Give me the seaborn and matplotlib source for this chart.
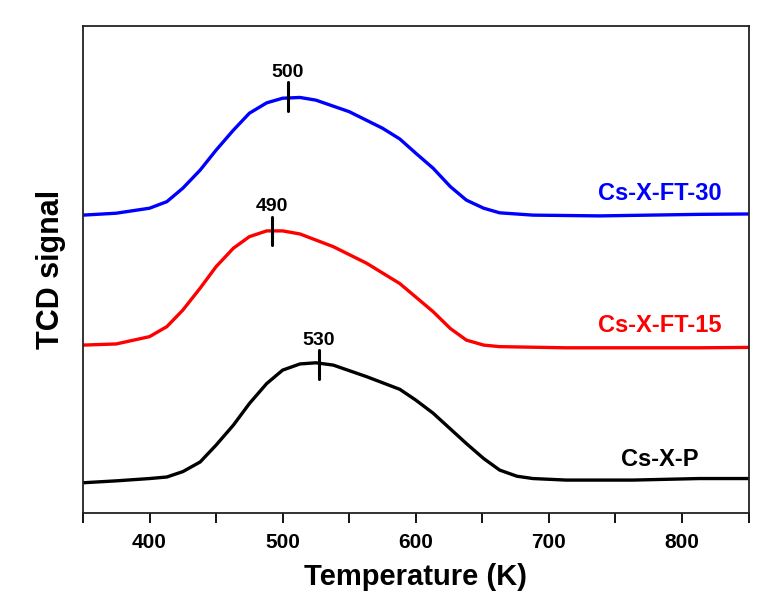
import numpy as np
import pandas as pd
import matplotlib.pyplot as plt
import seaborn as sns

# temperature (K) / TCD signal (a.u.)
temp_p = [350, 375, 400, 413, 425, 438, 450, 463, 475, 488, 500, 513, 525, 538, 563, 588, 600,
	613, 638, 651, 663, 676, 688, 713, 763, 813, 850]
sig_p = [0.79, 0.84, 0.90, 0.94, 1.08, 1.33, 1.77, 2.29, 2.85, 3.37, 3.72, 3.88, 3.91, 3.85, 3.55, 3.22, 2.94,
	2.60, 1.81, 1.42, 1.12, 0.96, 0.90, 0.86, 0.86, 0.90, 0.90]

temp_15 = [350, 375, 400, 413, 425, 438, 450, 463, 475, 488, 500, 513, 538, 563, 588, 600,
	613, 626, 638, 651, 663, 713, 813, 850]
sig_15 = [4.37, 4.40, 4.59, 4.85, 5.28, 5.85, 6.41, 6.89, 7.19, 7.34, 7.34, 7.26, 6.93, 6.50, 5.97, 5.62,
	5.24, 4.80, 4.50, 4.37, 4.33, 4.30, 4.30, 4.31]

temp_30 = [350, 375, 400, 413, 425, 438, 450, 463, 475, 488, 500, 513, 525, 550, 575, 588, 600,
	613, 626, 638, 651, 663, 688, 738, 813, 850]
sig_30 = [7.75, 7.80, 7.93, 8.10, 8.45, 8.92, 9.44, 9.96, 10.40, 10.67, 10.79, 10.81, 10.74, 10.44, 10.01, 9.73, 9.36,
	8.97, 8.49, 8.14, 7.93, 7.81, 7.75, 7.73, 7.77, 7.78]

names = ["Cs-X-P", "Cs-X-FT-15", "Cs-X-FT-30"]
colors = ["black", "#ff0000", "#0000ff"]
peak_labels = ["530", "490", "500"]
peak_x = [527, 492, 504]
peak_lo = [3.50, 6.98, 10.45]
peak_hi = [4.23, 7.70, 11.20]
name_y = [1.40, 4.87, 8.30]
name_x = [812, 830, 830]

sns.set_style("white")
plt.rcParams['font.family'] = ['Liberation Sans', 'DejaVu Sans']
plt.rcParams['text.color'] = 'black'
plt.rcParams['axes.labelcolor'] = 'black'
plt.rcParams['xtick.color'] = 'black'

fig = plt.figure(figsize=(7.79, 6.03), dpi=100)
ax = fig.add_axes([0.1065, 0.149, 0.8545, 0.808])

series = [(temp_p, sig_p), (temp_15, sig_15), (temp_30, sig_30)]
for (t, s), c in zip(series, colors):
	sns.lineplot(x=t, y=s, color=c, linewidth=2.4, ax=ax)

for i in range(3):
	ax.plot([peak_x[i], peak_x[i]], [peak_lo[i], peak_hi[i]], color="black", linewidth=2.2)
	ax.text(peak_x[i], peak_hi[i] + 0.05, peak_labels[i], ha="center", va="bottom",
		fontsize=14, fontweight="bold")
	ax.text(name_x[i], name_y[i], names[i], color=colors[i], ha="right", va="center",
		fontsize=17, fontweight="bold")

ax.set_xlim(350, 850)
ax.set_ylim(0, 12.67)
ax.set_xticks([400, 500, 600, 700, 800])
ax.set_xticks(np.arange(350, 851, 50), minor=True)
ax.set_yticks([])
ax.tick_params(axis="x", which="both", direction="out", bottom=True, length=7, width=1.3,
	labelsize=15, pad=7)
for lab in ax.get_xticklabels():
	lab.set_fontweight("bold")
for sp in ax.spines.values():
	sp.set_linewidth(1.3)
	sp.set_color("#222222")

ax.set_xlabel("Temperature (K)", fontsize=21, fontweight="bold", labelpad=8)
ax.set_ylabel("TCD signal", fontsize=22, fontweight="bold", labelpad=12)

fig.savefig("out.png", dpi=100)
